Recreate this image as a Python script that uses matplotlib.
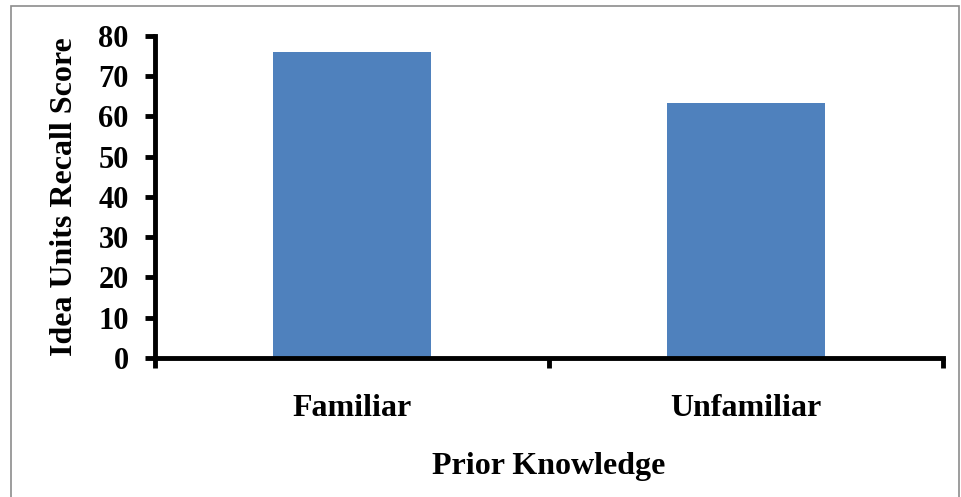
import matplotlib.pyplot as plt
from matplotlib.patches import Rectangle
from matplotlib.ticker import FixedLocator

categories = ['Familiar', 'Unfamiliar']
scores = [76, 63.3]
y_ticks = [0, 10, 20, 30, 40, 50, 60, 70, 80]

plt.rcParams['font.family'] = 'Liberation Serif'
plt.rcParams['font.weight'] = 'bold'

fig = plt.figure(figsize=(9.61, 4.97), dpi=100)
ax = fig.add_axes([0.1613, 0.2797, 0.82, 0.6479])

x = list(range(len(categories)))
ax.bar(x, scores, width=0.4, color='#4F81BD', zorder=2)

ax.set_xlim(-0.5, len(categories) - 0.5)
ax.set_ylim(0, 80)
ax.set_yticks(y_ticks)
ax.tick_params(axis='y', labelsize=22, length=7, width=3.5, direction='out', pad=12)

# ticks between categories, labels centred under bars
ax.xaxis.set_major_locator(FixedLocator([i - 0.5 for i in range(len(categories) + 1)]))
ax.xaxis.set_minor_locator(FixedLocator(x))
ax.xaxis.set_major_formatter(plt.NullFormatter())
ax.set_xticklabels(categories, minor=True)
ax.tick_params(axis='x', which='major', length=7, width=3.5, direction='out')
ax.tick_params(axis='x', which='minor', length=0, labelsize=23, pad=26)

for s in ['top', 'right']:
    ax.spines[s].set_visible(False)
for s in ['left', 'bottom']:
    ax.spines[s].set_linewidth(3.5)

ax.set_ylabel('Idea Units Recall Score', fontsize=23, fontweight='bold', labelpad=14)
ax.set_xlabel('Prior Knowledge', fontsize=23, fontweight='bold', labelpad=21)

fig.patches.append(Rectangle((11 / 961, -0.01), 948 / 961, 1 - 6 / 497 + 0.01,
                             transform=fig.transFigure, fill=False,
                             edgecolor='#8c8c8c', linewidth=1.2))

fig.savefig('out.png', dpi=100)
